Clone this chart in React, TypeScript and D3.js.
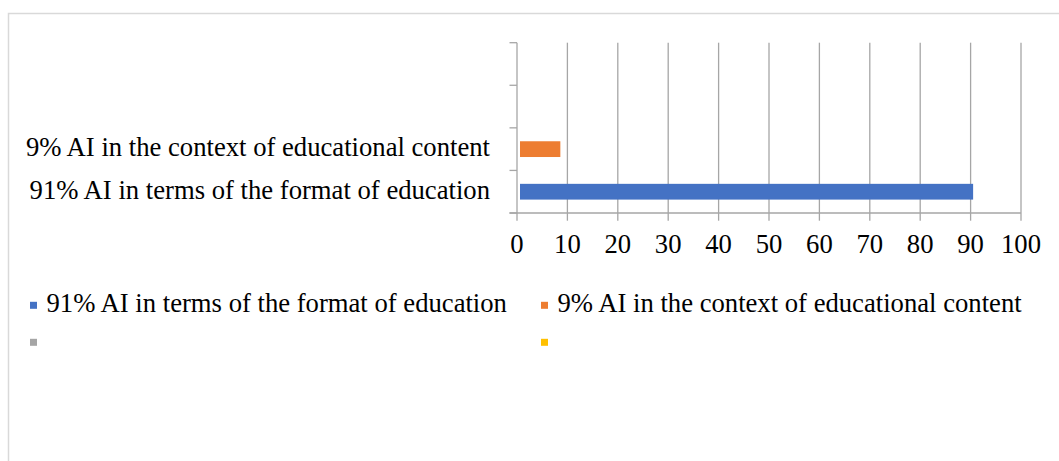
import React from "react";
import * as d3 from "d3";

const categories = [
  "91% AI in terms of the format of education",
  "9% AI in the context of educational content",
  "",
  "",
];
const values: (number | null)[] = [90.5, 8.6, null, null];
const seriesNames = [
  "91% AI in terms of the format of education",
  "9% AI in the context of educational content",
  "",
  "",
];
const seriesColors = ["#4472C4", "#ED7D31", "#A5A5A5", "#FFC000"];
const xTicks = [0, 10, 20, 30, 40, 50, 60, 70, 80, 90, 100];

const W = 1059;
const H = 461;
const FONT = "'Liberation Serif', 'Times New Roman', serif";

export default function App() {
  const x = d3.scaleLinear().domain([0, 100]).range([517, 1021]);
  const y = d3
    .scaleBand<number>()
    .domain(categories.map((_, i) => i))
    .range([213, 42.7])
    .paddingInner(0)
    .paddingOuter(0);
  const bw = y.bandwidth();
  const barH = bw * 0.37;
  const gridColor = "#a6a6a6";
  const boundaries = d3.range(categories.length + 1).map((i) =>
    i < categories.length ? (y(i) as number) + bw : (y(i - 1) as number)
  );

  return (
    <svg
      width={W}
      height={H}
      style={{ position: "absolute", left: 0, top: 0, display: "block" }}
    >
      <rect x={0} y={0} width={W} height={H} fill="#ffffff" />
      <rect
        x={8.5}
        y={13.5}
        width={W + 20}
        height={H + 20}
        fill="none"
        stroke="#d9d9d9"
        strokeWidth={1.5}
      />
      {/* vertical gridlines */}
      {xTicks.slice(1).map((t) => (
        <line
          key={"g" + t}
          x1={x(t)}
          x2={x(t)}
          y1={42.7}
          y2={220.7}
          stroke={gridColor}
          strokeWidth={1.3}
        />
      ))}
      {/* x axis line */}
      <line x1={509.5} x2={x(100)} y1={213} y2={213} stroke={gridColor} strokeWidth={1.3} />
      {/* y axis line */}
      <line x1={x(0)} x2={x(0)} y1={42.7} y2={220.7} stroke={gridColor} strokeWidth={1.3} />
      {/* y ticks */}
      {boundaries.map((b, i) => (
        <line key={"yt" + i} x1={509.5} x2={x(0)} y1={b} y2={b} stroke={gridColor} strokeWidth={1.3} />
      ))}
      {/* bars */}
      {values.map((v, i) =>
        v == null ? null : (
          <rect
            key={"b" + i}
            x={x(0) + 3}
            y={(y(i) as number) + bw / 2 - barH / 2}
            width={x(v) - x(0) - 3}
            height={barH}
            fill={seriesColors[i]}
          />
        )
      )}
      {/* category labels */}
      {categories.map((c, i) => (
        <text
          key={"c" + i}
          x={490}
          y={(y(i) as number) + bw / 2 + 7}
          textAnchor="end"
          fontFamily={FONT}
          fontSize={26.67}
          fill="#000"
        >
          {c}
        </text>
      ))}
      {/* x tick labels */}
      {xTicks.map((t) => (
        <text
          key={"xl" + t}
          x={x(t)}
          y={253}
          textAnchor="middle"
          fontFamily={FONT}
          fontSize={26.67}
          fill="#000"
        >
          {t}
        </text>
      ))}
      {/* legend */}
      {seriesNames.map((n, i) => {
        const col = i % 2;
        const row = Math.floor(i / 2);
        const sx = col === 0 ? 30 : 541;
        const base = 312.3 + row * 37;
        return (
          <g key={"l" + i}>
            <rect x={sx} y={base - 10.5} width={7} height={7} fill={seriesColors[i]} />
            <text x={sx + 16.5} y={base} fontFamily={FONT} fontSize={26.67} fill="#000">
              {n}
            </text>
          </g>
        );
      })}
    </svg>
  );
}
